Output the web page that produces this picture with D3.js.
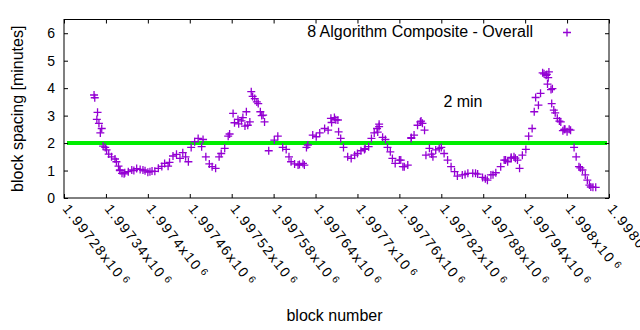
<!DOCTYPE html>
<html>
<head>
<meta charset="utf-8">
<script src="https://cdn.jsdelivr.net/npm/d3@7"></script>
<style>
    body { margin: 0; background: #fff; }
    text { font-family: "Liberation Sans", Arial, sans-serif; fill: #000; }
</style>
</head>
<body>
<div id="chart"></div>
<script>
(function (d3) {
    "use strict";

    /***** Données *****/

    // numéro de bloc
    var blocks = [
        1997323, 1997324, 1997328, 1997327, 1997330, 1997334, 1997332, 1997336, 1997339, 1997341,
        1997344, 1997348, 1997353, 1997355, 1997358, 1997360, 1997363, 1997367, 1997372, 1997377,
        1997384, 1997389, 1997396, 1997403, 1997410, 1997415, 1997424, 1997429, 1997436, 1997441,
        1997446, 1997450, 1997458, 1997462, 1997467, 1997472, 1997477, 1997479, 1997483, 1997488,
        1997492, 1997497, 1997502, 1997505, 1997510, 1997515, 1997517, 1997522, 1997524, 1997529,
        1997534, 1997536, 1997541, 1997543, 1997546, 1997548, 1997553, 1997558, 1997561, 1997565,
        1997567, 1997573, 1997581, 1997586, 1997593, 1997598, 1997602, 1997605, 1997610, 1997615,
        1997622, 1997627, 1997629, 1997636, 1997641, 1997646, 1997653, 1997658, 1997662, 1997667,
        1997672, 1997673, 1997676, 1997680, 1997686, 1997691, 1997696, 1997700, 1997705, 1997710,
        1997716, 1997720, 1997724, 1997728, 1997731, 1997736, 1997740, 1997743, 1997747, 1997750,
        1997754, 1997760, 1997762, 1997765, 1997767, 1997772, 1997777, 1997781, 1997786, 1997790,
        1997793, 1997796, 1997798, 1997803, 1997808, 1997812, 1997820, 1997824, 1997829, 1997834,
        1997839, 1997843, 1997850, 1997858, 1997865, 1997872, 1997879, 1997886, 1997891, 1997898,
        1997905, 1997910, 1997912, 1997915, 1997920, 1997924, 1997929, 1997932, 1997936, 1997941,
        1997945, 1997950, 1997953, 1997955, 1997959, 1997962, 1997965, 1997970, 1997972, 1997974,
        1997977, 1997978, 1997981, 1997986, 1997991, 1997996, 1998000, 1998005, 1998010, 1998013,
        1998017, 1998022, 1998026, 1998029, 1998032, 1998037, 1998041,
        // points supplémentaires dans les amas denses
        1997971, 1997967, 1997973, 1997979, 1997983, 1997989, 1997994, 1998003, 1997997,
        1997360, 1997366, 1997380, 1997393, 1997400, 1997406, 1997420, 1997431, 1997454,
        1997530, 1997539, 1997550, 1997556, 1997563,
        1997617, 1997624, 1997663, 1997669, 1997711, 1997731, 1997729, 1997777, 1997791,
        1997806, 1997817, 1997854, 1997869, 1997883, 1997894, 1997920, 1997926, 1998019, 1998034
    ];

    // espacement entre blocs [minutes]
    var spacing = [
        3.75, 3.65, 3.12, 2.86, 2.72, 2.53, 2.37, 1.89, 1.84, 1.75,
        1.60, 1.50, 1.42, 1.32, 1.16, 1.02, 0.90, 0.92, 0.96, 1.02,
        1.07, 1.04, 0.99, 0.96, 0.97, 1.08, 1.26, 1.16, 1.53, 1.59,
        1.44, 1.65, 1.32, 1.84, 2.05, 2.17, 1.87, 2.13, 1.50, 1.24,
        1.14, 1.08, 1.50, 1.62, 1.81, 2.25, 2.33, 3.08, 2.74, 2.86,
        2.81, 2.93, 3.14, 2.65, 2.77, 3.87, 3.62, 3.44, 3.14, 3.02,
        2.77, 1.72, 2.11, 2.25, 1.84, 1.77, 1.50, 1.32, 1.24, 1.20,
        1.26, 1.84, 1.93, 2.29, 2.23, 2.37, 2.53, 2.47, 2.90, 2.93,
        2.84, 2.41, 2.17, 1.84, 1.50, 1.44, 1.56, 1.62, 1.72, 1.77,
        1.87, 2.17, 2.37, 2.53, 2.69, 2.21, 2.13, 1.84, 1.68, 1.44,
        1.26, 1.38, 1.38, 1.14, 1.14, 1.20, 2.17, 2.29, 2.65, 2.77,
        2.72, 2.47, 1.56, 1.81, 1.50, 1.75, 1.84, 1.62, 1.38, 1.14,
        0.96, 0.80, 0.84, 0.90, 0.90, 0.87, 0.75, 0.65, 0.84, 0.92,
        1.14, 1.38, 1.38, 1.32, 1.48, 1.50, 1.38, 1.08, 1.56, 1.77,
        2.25, 2.53, 3.14, 3.66, 3.38, 3.81, 4.56, 4.47, 4.15, 4.59,
        3.95, 3.44, 3.20, 2.90, 2.77, 2.50, 2.41, 2.47, 1.84, 1.50,
        1.14, 1.02, 0.84, 0.65, 0.47, 0.39, 0.39,
        4.50, 4.52, 4.38, 3.98, 3.10, 2.80, 2.45, 2.50, 2.50,
        1.00, 0.88, 1.00, 1.02, 0.94, 0.98, 1.15, 1.30, 1.50,
        2.70, 2.62, 3.70, 3.50, 3.00,
        1.22, 1.20, 2.75, 2.85, 1.80, 2.60, 2.40, 2.20, 2.80,
        1.60, 1.80, 0.86, 0.90, 0.70, 0.85, 1.45, 1.45, 1.10, 0.40
    ];

    var xTicks = d3.range(0, 14).map(i => 1997280 + 60 * i);
    var yTicks = [0, 1, 2, 3, 4, 5, 6];
    var target = 2;              // ligne des 2 minutes
    var seriesName = "8 Algorithm Composite - Overall";
    var targetLabel = "2 min";

    /***** Configuration *****/

    const width = 640;
    const height = 330;
    var margin = { top: 19.5, right: 31, bottom: 132, left: 64 };
    var plotW = width - margin.left - margin.right;
    var plotH = height - margin.top - margin.bottom;

    var x = d3.scaleLinear().domain([1997280, 1998060]).range([0, plotW]);
    var y = d3.scaleLinear().domain([0, 6.5]).range([plotH, 0]);

    var svg = d3.select("#chart").append("svg")
        .attr("width", width)
        .attr("height", height);

    var g = svg.append("g")
        .attr("transform", "translate(" + margin.left + "," + margin.top + ")");

    // Ligne verte à 2 minutes
    g.append("line")
        .attr("x1", 3).attr("x2", plotW - 2)
        .attr("y1", y(target)).attr("y2", y(target))
        .attr("stroke", "#00ee00")
        .attr("stroke-width", 4);

    // Points en croix
    var pts = blocks.map((b, i) => ({ b: b, v: spacing[i] }));
    g.append("g").selectAll("path")
        .data(pts)
        .enter().append("path")
        .attr("d", d => "M" + (x(d.b) - 4) + "," + y(d.v) + "h8M" + x(d.b) + "," + (y(d.v) - 4) + "v8")
        .attr("stroke", "#9400d3")
        .attr("stroke-width", 1.3)
        .attr("fill", "none");

    // Axes (graduations vers l'intérieur, en haut et à droite aussi)
    var fmt = d => (d / 1e6).toPrecision(6).replace(/0+$/, "").replace(/\.$/, "");

    g.append("g")
        .attr("transform", "translate(0," + plotH + ")")
        .call(d3.axisBottom(x).tickValues(xTicks).tickSizeInner(-4).tickSizeOuter(0).tickFormat(""));
    g.append("g")
        .call(d3.axisTop(x).tickValues(xTicks).tickSizeInner(-4).tickSizeOuter(0).tickFormat(""));
    g.append("g")
        .call(d3.axisLeft(y).tickValues(yTicks).tickSizeInner(-4).tickSizeOuter(0).tickFormat(""));
    g.append("g")
        .attr("transform", "translate(" + plotW + ",0)")
        .call(d3.axisRight(y).tickValues(yTicks).tickSizeInner(-4).tickSizeOuter(0).tickFormat(""));

    g.selectAll(".domain").remove();
    g.selectAll(".tick line").attr("stroke", "#000");

    g.append("rect")
        .attr("width", plotW).attr("height", plotH)
        .attr("fill", "none").attr("stroke", "#000").attr("stroke-width", 1);

    // Étiquettes de l'axe y
    yTicks.forEach(function (t) {
        g.append("text")
            .attr("x", -9).attr("y", y(t) + 5)
            .attr("text-anchor", "end")
            .style("font-size", "14px")
            .text(t);
    });

    // Étiquettes tournées de l'axe x (le dernier déborde, comme l'original)
    xTicks.forEach(function (t) {
        var lab = g.append("text")
            .attr("transform", "translate(" + (x(t) - 2) + "," + (plotH + 11) + ") rotate(52)")
            .style("font-size", "14px")
            .style("letter-spacing", "1.6px");
        lab.append("tspan").text(fmt(t) + "x10");
        lab.append("tspan").attr("dx", 3).attr("dy", -4).style("font-size", "10px").text("6");
    });

    // Titres des axes
    svg.append("text")
        .attr("x", margin.left + plotW / 2 - 2).attr("y", 321)
        .attr("text-anchor", "middle")
        .style("font-size", "16px")
        .text("block number");

    svg.append("text")
        .attr("transform", "translate(23," + (margin.top + plotH / 2) + ") rotate(-90)")
        .attr("text-anchor", "middle")
        .style("font-size", "16px")
        .text("block spacing [minutes]");

    // Légende
    svg.append("text")
        .attr("x", 533).attr("y", 37)
        .attr("text-anchor", "end")
        .style("font-size", "16px")
        .text(seriesName);
    svg.append("path")
        .attr("d", "M563,32.5h8M567,28.5v8")
        .attr("stroke", "#9400d3").attr("stroke-width", 1.3);

    // Annotation
    g.append("text")
        .attr("x", x(1997823)).attr("y", y(3.3))
        .style("font-size", "16px")
        .text(targetLabel);

})(d3);
</script>
</body>
</html>
